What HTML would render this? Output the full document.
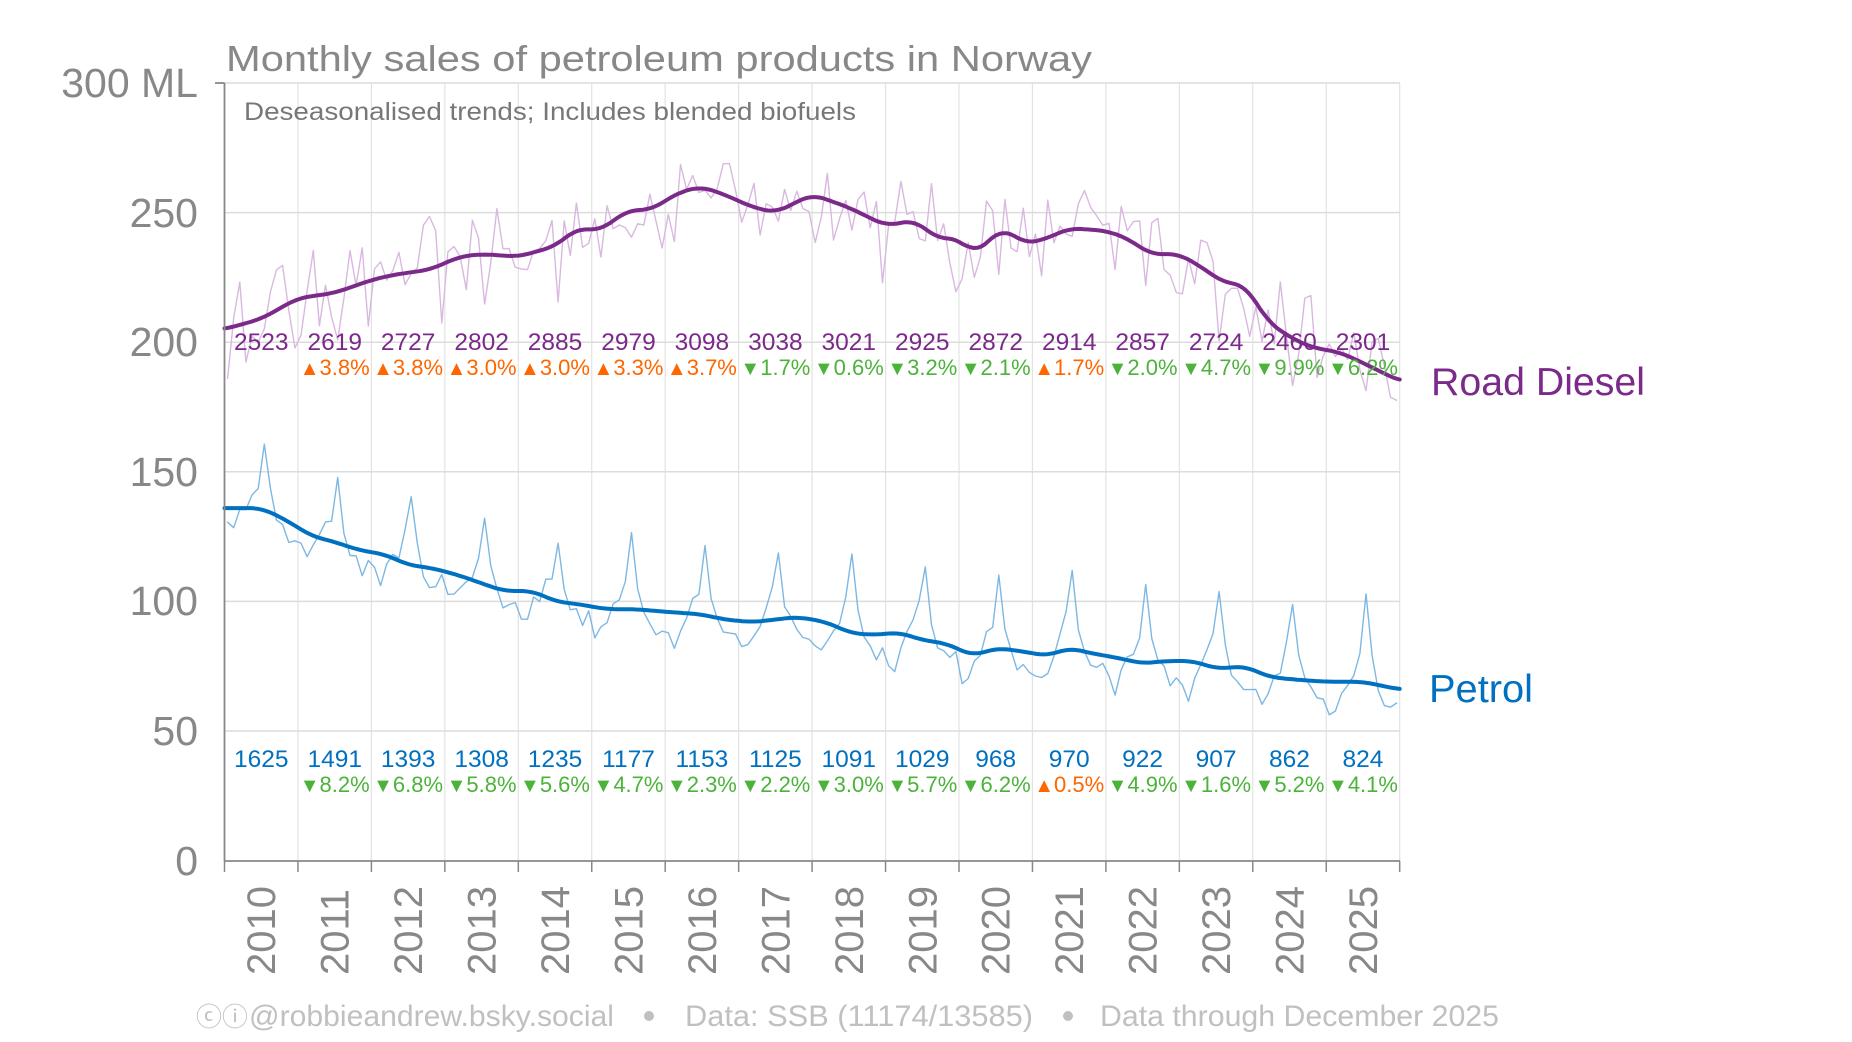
<!DOCTYPE html>
<html><head><meta charset="utf-8"><style>
html,body{margin:0;padding:0;background:#fff;}
svg{display:block;font-family:"Liberation Sans","DejaVu Sans",sans-serif;}
</style></head><body>
<svg id="s" width="1852" height="1042" viewBox="0 0 1852 1042" xmlns="http://www.w3.org/2000/svg">
<g id="grid" stroke="#e2e2e2" stroke-width="1.2"></g>
<g stroke="#dcdcdc" stroke-width="1.5">
<line x1="224.5" x2="1400" y1="83" y2="83"/><line x1="224.5" x2="1400" y1="212.6" y2="212.6"/><line x1="224.5" x2="1400" y1="342.2" y2="342.2"/><line x1="224.5" x2="1400" y1="471.8" y2="471.8"/><line x1="224.5" x2="1400" y1="601.4" y2="601.4"/><line x1="224.5" x2="1400" y1="731" y2="731"/>
</g>
<g id="series"></g>
<g stroke="#888" stroke-width="1.8" fill="none">
<line x1="224.5" y1="83" x2="224.5" y2="861"/><line x1="224.5" y1="861" x2="1400" y2="861"/>
<line x1="215" y1="83" x2="224.5" y2="83"/>
</g>
<g id="ticks" stroke="#888" stroke-width="1.5"></g>
<g fill="#888" font-size="41" text-anchor="end">
<text x="198" y="97">300 ML</text><text x="198" y="227">250</text><text x="198" y="356">200</text><text x="198" y="486">150</text><text x="198" y="615">100</text><text x="198" y="745">50</text><text x="198" y="875">0</text>
</g>
<text x="226" y="71" font-size="36" fill="#888" textLength="866" lengthAdjust="spacingAndGlyphs">Monthly sales of petroleum products in Norway</text>
<text x="244" y="120" font-size="25" fill="#777" textLength="612" lengthAdjust="spacingAndGlyphs">Deseasonalised trends; Includes blended biofuels</text>
<g font-size="24.5" fill="#7b2a8a" text-anchor="middle">
<text x="261.2" y="350">2523</text><text x="334.7" y="350">2619</text><text x="408.1" y="350">2727</text><text x="481.6" y="350">2802</text><text x="555" y="350">2885</text><text x="628.5" y="350">2979</text><text x="701.9" y="350">3098</text><text x="775.4" y="350">3038</text><text x="848.8" y="350">3021</text><text x="922.3" y="350">2925</text><text x="995.7" y="350">2872</text><text x="1069.2" y="350">2914</text><text x="1142.6" y="350">2857</text><text x="1216.1" y="350">2724</text><text x="1289.5" y="350">2460</text><text x="1363" y="350">2301</text>
</g>
<g font-size="24.5" fill="#0070c0" text-anchor="middle">
<text x="261.2" y="767">1625</text><text x="334.7" y="767">1491</text><text x="408.1" y="767">1393</text><text x="481.6" y="767">1308</text><text x="555" y="767">1235</text><text x="628.5" y="767">1177</text><text x="701.9" y="767">1153</text><text x="775.4" y="767">1125</text><text x="848.8" y="767">1091</text><text x="922.3" y="767">1029</text><text x="995.7" y="767">968</text><text x="1069.2" y="767">970</text><text x="1142.6" y="767">922</text><text x="1216.1" y="767">907</text><text x="1289.5" y="767">862</text><text x="1363" y="767">824</text>
</g>
<g font-size="22" text-anchor="middle">
<text x="334.7" y="375" fill="#ff6600"><tspan font-size="20">▲</tspan>3.8%</text>
<text x="408.1" y="375" fill="#ff6600"><tspan font-size="20">▲</tspan>3.8%</text>
<text x="481.6" y="375" fill="#ff6600"><tspan font-size="20">▲</tspan>3.0%</text>
<text x="555" y="375" fill="#ff6600"><tspan font-size="20">▲</tspan>3.0%</text>
<text x="628.5" y="375" fill="#ff6600"><tspan font-size="20">▲</tspan>3.3%</text>
<text x="701.9" y="375" fill="#ff6600"><tspan font-size="20">▲</tspan>3.7%</text>
<text x="775.4" y="375" fill="#4cb33a"><tspan font-size="20">▼</tspan>1.7%</text>
<text x="848.8" y="375" fill="#4cb33a"><tspan font-size="20">▼</tspan>0.6%</text>
<text x="922.3" y="375" fill="#4cb33a"><tspan font-size="20">▼</tspan>3.2%</text>
<text x="995.7" y="375" fill="#4cb33a"><tspan font-size="20">▼</tspan>2.1%</text>
<text x="1069.2" y="375" fill="#ff6600"><tspan font-size="20">▲</tspan>1.7%</text>
<text x="1142.6" y="375" fill="#4cb33a"><tspan font-size="20">▼</tspan>2.0%</text>
<text x="1216.1" y="375" fill="#4cb33a"><tspan font-size="20">▼</tspan>4.7%</text>
<text x="1289.5" y="375" fill="#4cb33a"><tspan font-size="20">▼</tspan>9.9%</text>
<text x="1363" y="375" fill="#4cb33a"><tspan font-size="20">▼</tspan>6.2%</text>

<text x="334.7" y="792" fill="#4cb33a"><tspan font-size="20">▼</tspan>8.2%</text>
<text x="408.1" y="792" fill="#4cb33a"><tspan font-size="20">▼</tspan>6.8%</text>
<text x="481.6" y="792" fill="#4cb33a"><tspan font-size="20">▼</tspan>5.8%</text>
<text x="555" y="792" fill="#4cb33a"><tspan font-size="20">▼</tspan>5.6%</text>
<text x="628.5" y="792" fill="#4cb33a"><tspan font-size="20">▼</tspan>4.7%</text>
<text x="701.9" y="792" fill="#4cb33a"><tspan font-size="20">▼</tspan>2.3%</text>
<text x="775.4" y="792" fill="#4cb33a"><tspan font-size="20">▼</tspan>2.2%</text>
<text x="848.8" y="792" fill="#4cb33a"><tspan font-size="20">▼</tspan>3.0%</text>
<text x="922.3" y="792" fill="#4cb33a"><tspan font-size="20">▼</tspan>5.7%</text>
<text x="995.7" y="792" fill="#4cb33a"><tspan font-size="20">▼</tspan>6.2%</text>
<text x="1069.2" y="792" fill="#ff6600"><tspan font-size="20">▲</tspan>0.5%</text>
<text x="1142.6" y="792" fill="#4cb33a"><tspan font-size="20">▼</tspan>4.9%</text>
<text x="1216.1" y="792" fill="#4cb33a"><tspan font-size="20">▼</tspan>1.6%</text>
<text x="1289.5" y="792" fill="#4cb33a"><tspan font-size="20">▼</tspan>5.2%</text>
<text x="1363" y="792" fill="#4cb33a"><tspan font-size="20">▼</tspan>4.1%</text>
</g>
<text x="1431" y="395" font-size="39" fill="#7b2a8a" textLength="214" lengthAdjust="spacingAndGlyphs">Road Diesel</text>
<text x="1429" y="702" font-size="39" fill="#0070c0" textLength="104" lengthAdjust="spacingAndGlyphs">Petrol</text>
<g font-size="40" fill="#888">
<text transform="translate(275.2,975) rotate(-90)">2010</text>
<text transform="translate(348.7,975) rotate(-90)">2011</text>
<text transform="translate(422.1,975) rotate(-90)">2012</text>
<text transform="translate(495.6,975) rotate(-90)">2013</text>
<text transform="translate(569,975) rotate(-90)">2014</text>
<text transform="translate(642.5,975) rotate(-90)">2015</text>
<text transform="translate(715.9,975) rotate(-90)">2016</text>
<text transform="translate(789.4,975) rotate(-90)">2017</text>
<text transform="translate(862.8,975) rotate(-90)">2018</text>
<text transform="translate(936.3,975) rotate(-90)">2019</text>
<text transform="translate(1009.7,975) rotate(-90)">2020</text>
<text transform="translate(1083.2,975) rotate(-90)">2021</text>
<text transform="translate(1156.6,975) rotate(-90)">2022</text>
<text transform="translate(1230.1,975) rotate(-90)">2023</text>
<text transform="translate(1303.5,975) rotate(-90)">2024</text>
<text transform="translate(1377,975) rotate(-90)">2025</text>
</g>
<g fill="#c0c0c0" font-size="30">
<text x="196" y="1026" font-size="26">ⓒⓘ</text>
<text x="249" y="1026" textLength="365" lengthAdjust="spacingAndGlyphs">@robbieandrew.bsky.social</text>
<circle cx="649" cy="1016" r="5"/>
<text x="685" y="1026" textLength="348" lengthAdjust="spacingAndGlyphs">Data: SSB (11174/13585)</text>
<circle cx="1068" cy="1016" r="5"/>
<text x="1100" y="1026" textLength="399" lengthAdjust="spacingAndGlyphs">Data through December 2025</text>
</g>
</svg>
<script>
(function(){
var NS="http://www.w3.org/2000/svg";
function X(t){return 224.5+t*73.45;}
function Y(v){return 860.6-v*2.592;}
var g=document.getElementById('grid'),tk=document.getElementById('ticks');
for(var i=1;i<=16;i++){var l=document.createElementNS(NS,'line');l.setAttribute('x1',X(i));l.setAttribute('x2',X(i));l.setAttribute('y1',83);l.setAttribute('y2',861);g.appendChild(l);}
for(var i=0;i<=16;i++){var l=document.createElementNS(NS,'line');l.setAttribute('x1',X(i));l.setAttribute('x2',X(i));l.setAttribute('y1',861);l.setAttribute('y2',872);tk.appendChild(l);}
function lin(pts,t){for(var i=0;i<pts.length-1;i++){if(t<=pts[i+1][0]){var a=pts[i],b=pts[i+1],f=(t-a[0])/(b[0]-a[0]);return a[1]+(b[1]-a[1])*f;}}return pts[pts.length-1][1];}
function smooth(pts){var N=321,arr=[];for(var i=0;i<N;i++)arr.push(lin(pts,i*0.05));var out=[];var w=3;for(var i=0;i<N;i++){var s=0,c=0;for(var k=-w;k<=w;k++){var j=Math.min(N-1,Math.max(0,i+k));s+=arr[j];c++;}out.push(s/c);}return out;}
var D=[[0,205],[0.5,209],[1,217],[1.5,219],[2,224],[2.3,226],[2.8,228],[3.2,233],[3.5,234],[4,233],[4.5,237],[4.8,244],[5.1,243],[5.5,251],[5.8,251],[6.2,258],[6.5,260],[6.8,257],[7.2,252],[7.5,250],[8,257],[8.5,252],[9,245],[9.4,247],[9.7,240],[10,240],[10.2,234],[10.6,244],[10.9,238],[11.2,240],[11.5,244],[12,243],[12.3,240],[12.6,234],[13,234],[13.3,229],[13.6,223],[13.9,222],[14.2,208],[14.5,202],[14.8,198],[15.2,196],[15.5,192],[16,185]];
var P=[[0,136],[0.5,136],[0.8,132],[1.2,125],[1.5,123],[1.8,120],[2.2,118],[2.5,114],[2.8,113],[3.2,110],[3.5,107],[3.8,104],[4.2,104],[4.5,100],[4.8,99],[5.2,97],[5.6,97],[6,96],[6.5,95],[6.8,93],[7.2,92],[7.5,93],[7.8,94],[8.2,92],[8.5,88],[8.8,87],[9.2,88],[9.5,85],[9.8,84],[10.2,79],[10.5,82],[10.8,81],[11.2,79],[11.5,82],[11.8,80],[12.2,78],[12.5,76],[12.8,77],[13.2,77],[13.5,74],[13.9,75],[14.2,71],[14.5,70],[15,69],[15.5,69],[16,66]];
var seed=12345;function r(){seed=(seed*16807)%2147483647;return seed/2147483647;}
function add(d,c,w){var p=document.createElementNS(NS,'path');p.setAttribute('d',d);p.setAttribute('stroke',c);p.setAttribute('stroke-width',w);p.setAttribute('fill','none');p.setAttribute('stroke-linejoin','round');p.setAttribute('stroke-linecap','round');document.getElementById('series').appendChild(p);}
var dm='';for(var m=0;m<192;m++){var t=(m+0.5)/12;var s=[-8,-6,4,-2,8,4,-12,6,4,8,2,-10][m%12];var v=lin(D,t)+s+(r()-0.5)*28;if(m>=190)v=lin(D,t)-8;dm+=(m?'L':'M')+X(t).toFixed(1)+' '+Y(v).toFixed(1);}
add(dm,'#d9b8e0',1.4);
var pm='';for(var m=0;m<192;m++){var t=(m+0.5)/12;var mo=m%12;var amp=0.1+0.16*(t/16);var sea=[-0.1,-0.12,-0.04,0,0.05,0.12,0.3,0.08,-0.02,-0.05,-0.08,-0.05][mo];var tr=lin(P,t);var v=tr*(1+sea*(amp/0.12)*0.7)+(r()-0.5)*7;pm+=(m?'L':'M')+X(t).toFixed(1)+' '+Y(v).toFixed(1);}
add(pm,'#7db8e3',1.4);
function tpath(arr){var d='';for(var i=0;i<arr.length;i++){d+=(i?'L':'M')+X(i*0.05).toFixed(1)+' '+Y(arr[i]).toFixed(1);}return d;}
add(tpath(smooth(D)),'#7b2a8a',4);
add(tpath(smooth(P)),'#0070c0',4);
})();
</script>
</body></html>
